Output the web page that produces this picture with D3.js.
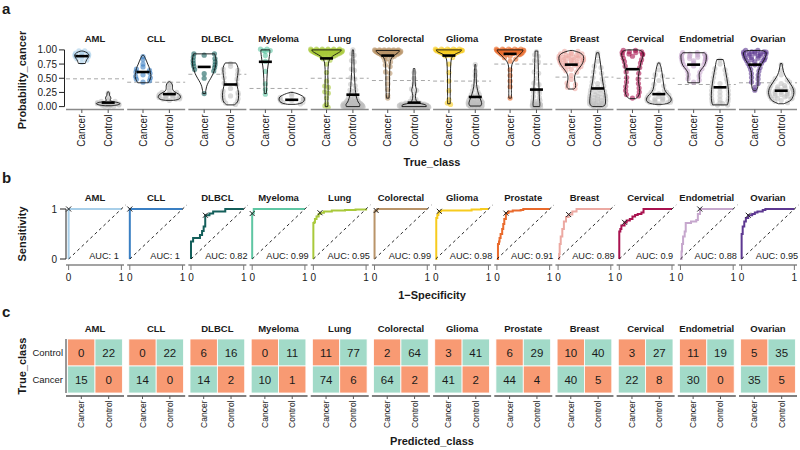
<!DOCTYPE html>
<html lang="en">
<head>
<meta charset="UTF-8">
<title>Cancer classifier panels</title>
<script src="https://cdn.jsdelivr.net/npm/d3@7"></script>
<style>
  body { margin: 0; background: #fff; }
  text { font-family: "Liberation Sans", Arial, Helvetica, sans-serif; fill: #1a1a1a; }
</style>
</head>
<body>
<svg id="fig" width="800" height="450"></svg>
<script>
const types = ['AML', 'CLL', 'DLBCL', 'Myeloma', 'Lung', 'Colorectal', 'Glioma', 'Prostate', 'Breast', 'Cervical', 'Endometrial', 'Ovarian'];
const typeColors = ['#a8cfe9', '#3a7fc3', '#145f5b', '#5fc6a3', '#a9c93b', '#b99469', '#f7cb1e', '#e96a2c', '#eca9a2', '#a9124f', '#c6a7cd', '#5d3891'];
const classes = ['Cancer', 'Control'];

// panel a: decision thresholds and medians of Probability_cancer
const probTicks = [0, 0.25, 0.5, 0.75, 1];
const thresholds = [0.49, 0.43, 0.57, 0.32, 0.5, 0.46, 0.45, 0.75, 0.52, 0.5, 0.39, 0.42];
const cancerMedian = [0.89, 0.61, 0.70, 0.79, 0.85, 0.90, 0.90, 0.93, 0.74, 0.66, 0.74, 0.74];
const controlMedian = [0.07, 0.22, 0.39, 0.12, 0.21, 0.07, 0.17, 0.30, 0.32, 0.22, 0.34, 0.28];

// violin outlines: [probability, density half-width]
const cancerViolin = [
  [[0.76,0.13],[0.79,0.15],[0.83,0.19],[0.87,0.25],[0.91,0.27],[0.95,0.2],[0.975,0.07],[0.98,0]],
  [[0.42,0.2],[0.47,0.26],[0.53,0.3],[0.6,0.28],[0.67,0.25],[0.75,0.18],[0.82,0.12],[0.87,0.07],[0.9,0.03],[0.91,0]],
  [[0.23,0.05],[0.28,0.06],[0.35,0.09],[0.42,0.15],[0.5,0.25],[0.58,0.34],[0.66,0.4],[0.74,0.44],[0.82,0.45],[0.88,0.43],[0.93,0.4]],
  [[0.23,0.04],[0.35,0.05],[0.5,0.06],[0.65,0.08],[0.78,0.12],[0.88,0.15],[0.96,0.17],[1.0,0.17]],
  [[0,0.05],[0.1,0.05],[0.3,0.06],[0.5,0.05],[0.7,0.06],[0.8,0.09],[0.86,0.16],[0.91,0.3],[0.95,0.45],[0.98,0.54],[1.0,0.56]],
  [[0.15,0.05],[0.25,0.06],[0.4,0.07],[0.55,0.07],[0.7,0.08],[0.8,0.1],[0.86,0.15],[0.9,0.24],[0.94,0.36],[0.97,0.43],[0.99,0.44]],
  [[0.05,0.05],[0.2,0.05],[0.4,0.05],[0.6,0.06],[0.75,0.07],[0.85,0.1],[0.9,0.16],[0.94,0.3],[0.97,0.44],[1.0,0.48]],
  [[0.15,0.05],[0.3,0.05],[0.5,0.05],[0.65,0.05],[0.74,0.07],[0.8,0.13],[0.86,0.24],[0.91,0.35],[0.95,0.43],[0.98,0.48],[1.0,0.49]],
  [[0.31,0.1],[0.34,0.16],[0.4,0.16],[0.47,0.13],[0.54,0.13],[0.6,0.18],[0.66,0.27],[0.72,0.37],[0.78,0.44],[0.85,0.47],[0.9,0.45],[0.94,0.36],[0.97,0.2],[0.99,0.05]],
  [[0.14,0.12],[0.18,0.22],[0.25,0.27],[0.32,0.27],[0.4,0.24],[0.48,0.22],[0.58,0.24],[0.68,0.28],[0.78,0.32],[0.86,0.38],[0.93,0.41],[0.98,0.35],[1.0,0.2]],
  [[0.42,0.22],[0.48,0.22],[0.54,0.21],[0.6,0.22],[0.66,0.3],[0.72,0.4],[0.79,0.46],[0.86,0.48],[0.92,0.47],[0.95,0.4]],
  [[0.28,0.04],[0.32,0.1],[0.4,0.12],[0.5,0.12],[0.6,0.13],[0.68,0.18],[0.76,0.27],[0.83,0.36],[0.9,0.42],[0.95,0.43],[0.98,0.35],[0.99,0.2]]
];
const controlViolin = [
  [[0.015,0.1],[0.03,0.35],[0.05,0.45],[0.07,0.38],[0.09,0.15],[0.11,0.07],[0.14,0.1],[0.17,0.09],[0.2,0.05],[0.24,0.04],[0.26,0.02]],
  [[0.11,0.15],[0.13,0.35],[0.16,0.42],[0.2,0.4],[0.24,0.28],[0.28,0.15],[0.32,0.12],[0.36,0.12],[0.4,0.1],[0.43,0.05],[0.44,0]],
  [[0.03,0.14],[0.08,0.26],[0.15,0.3],[0.25,0.3],[0.35,0.26],[0.45,0.24],[0.55,0.27],[0.65,0.29],[0.72,0.26],[0.77,0.2]],
  [[0.04,0.15],[0.06,0.35],[0.09,0.45],[0.13,0.48],[0.17,0.45],[0.2,0.35],[0.23,0.2],[0.25,0.05]],
  [[0,0.25],[0.04,0.26],[0.08,0.2],[0.14,0.15],[0.2,0.12],[0.3,0.09],[0.45,0.07],[0.6,0.05],[0.8,0.04],[0.95,0.03],[1.0,0.02]],
  [[0,0.46],[0.02,0.46],[0.04,0.38],[0.06,0.2],[0.09,0.1],[0.14,0.06],[0.2,0.05],[0.26,0.08],[0.3,0.09],[0.35,0.06],[0.45,0.04],[0.55,0.04],[0.67,0.03]],
  [[0.01,0.2],[0.05,0.24],[0.1,0.22],[0.15,0.18],[0.2,0.14],[0.28,0.09],[0.35,0.06],[0.45,0.04],[0.6,0.03],[0.74,0.02]],
  [[0,0.12],[0.05,0.13],[0.15,0.11],[0.3,0.1],[0.5,0.08],[0.7,0.07],[0.85,0.06],[0.98,0.05]],
  [[0,0.18],[0.03,0.28],[0.1,0.3],[0.2,0.28],[0.3,0.25],[0.45,0.19],[0.6,0.15],[0.75,0.11],[0.88,0.07],[0.95,0.04]],
  [[0.04,0.15],[0.06,0.35],[0.09,0.45],[0.13,0.47],[0.18,0.42],[0.24,0.3],[0.3,0.22],[0.4,0.18],[0.5,0.15],[0.6,0.12],[0.7,0.08],[0.77,0.03]],
  [[0.03,0.28],[0.1,0.32],[0.2,0.33],[0.3,0.32],[0.4,0.29],[0.5,0.26],[0.6,0.22],[0.7,0.18],[0.78,0.15],[0.83,0.12]],
  [[0.05,0.1],[0.08,0.25],[0.12,0.38],[0.18,0.45],[0.25,0.48],[0.32,0.45],[0.38,0.38],[0.45,0.28],[0.52,0.18],[0.6,0.1],[0.68,0.06],[0.76,0.03]]
];

// samples: [probability, number of samples]
const cancerSamples = [
  [[0.97,3],[0.93,3],[0.9,3],[0.87,3],[0.83,2],[0.78,1]],
  [[0.88,1],[0.83,1],[0.75,1],[0.7,1],[0.65,2],[0.6,2],[0.56,1],[0.52,2],[0.47,2],[0.43,1]],
  [[0.92,3],[0.86,2],[0.8,2],[0.75,2],[0.7,2],[0.64,2],[0.58,1],[0.5,1],[0.23,1]],
  [[1.0,4],[0.97,1],[0.9,1],[0.8,1],[0.62,1],[0.4,1],[0.3,1],[0.22,1]],
  [[1.0,12],[0.985,12],[0.97,12],[0.955,10],[0.94,8],[0.92,6],[0.9,4],[0.87,3],[0.83,2],[0.75,1],[0.6,1],[0.45,1],[0.35,2],[0.25,2],[0.15,1],[0.05,1],[0.0,2]],
  [[0.99,12],[0.975,12],[0.96,10],[0.945,8],[0.93,6],[0.9,4],[0.86,3],[0.8,2],[0.72,2],[0.6,2],[0.5,1],[0.4,1],[0.3,1],[0.2,1],[0.15,1]],
  [[1.0,10],[0.985,9],[0.97,7],[0.95,5],[0.92,3],[0.88,2],[0.75,1],[0.6,1],[0.45,1],[0.28,1],[0.12,1],[0.05,2]],
  [[1.0,10],[0.985,9],[0.97,8],[0.95,6],[0.93,4],[0.9,3],[0.85,2],[0.8,1],[0.65,1],[0.55,1],[0.45,1],[0.35,1],[0.15,1]],
  [[0.96,3],[0.92,5],[0.88,6],[0.84,6],[0.8,5],[0.76,5],[0.72,4],[0.67,3],[0.62,2],[0.55,1],[0.48,1],[0.4,2],[0.33,2]],
  [[0.98,4],[0.94,4],[0.9,3],[0.84,2],[0.78,2],[0.7,2],[0.6,2],[0.5,2],[0.42,2],[0.34,2],[0.27,2],[0.2,2],[0.15,1]],
  [[0.94,4],[0.9,4],[0.86,4],[0.82,3],[0.78,3],[0.73,3],[0.68,2],[0.62,2],[0.55,2],[0.48,2],[0.43,1]],
  [[0.98,4],[0.95,5],[0.92,5],[0.88,4],[0.84,4],[0.8,3],[0.75,3],[0.7,2],[0.64,2],[0.57,2],[0.5,2],[0.42,2],[0.34,1],[0.29,1]]
];
const controlSamples = [
  [[0.02,6],[0.04,6],[0.06,4],[0.08,3],[0.12,1],[0.16,1],[0.24,1]],
  [[0.12,3],[0.15,4],[0.18,4],[0.21,4],[0.24,3],[0.28,1],[0.33,1],[0.38,1],[0.42,1]],
  [[0.05,2],[0.1,2],[0.15,2],[0.2,3],[0.26,2],[0.32,1],[0.4,2],[0.5,2],[0.58,2],[0.65,2],[0.71,1],[0.76,1]],
  [[0.06,2],[0.09,2],[0.12,3],[0.15,2],[0.19,1],[0.23,1]],
  [[0.0,20],[0.02,18],[0.04,14],[0.07,8],[0.1,6],[0.14,4],[0.2,4],[0.28,3],[0.38,2],[0.5,2],[0.65,2],[0.8,2],[0.92,2],[1.0,1]],
  [[0.0,18],[0.015,16],[0.03,12],[0.05,8],[0.08,4],[0.14,2],[0.22,1],[0.3,2],[0.4,1],[0.5,1],[0.6,1]],
  [[0.01,8],[0.03,8],[0.06,7],[0.1,6],[0.14,4],[0.2,3],[0.27,2],[0.35,2],[0.45,1],[0.55,1],[0.62,1],[0.74,1]],
  [[0.0,6],[0.02,5],[0.05,4],[0.1,3],[0.17,2],[0.25,2],[0.3,2],[0.4,2],[0.5,1],[0.6,2],[0.7,1],[0.8,2],[0.9,2],[0.97,1]],
  [[0.01,6],[0.04,6],[0.08,5],[0.12,5],[0.17,5],[0.22,4],[0.28,4],[0.35,3],[0.42,3],[0.5,2],[0.6,2],[0.7,2],[0.8,1],[0.9,1],[0.95,1]],
  [[0.06,3],[0.09,4],[0.12,4],[0.15,4],[0.19,3],[0.24,3],[0.3,2],[0.38,2],[0.46,1],[0.55,2],[0.65,1],[0.75,1]],
  [[0.04,4],[0.08,3],[0.13,3],[0.2,3],[0.27,3],[0.34,3],[0.42,3],[0.5,2],[0.58,2],[0.66,2],[0.75,1],[0.82,1]],
  [[0.08,2],[0.12,3],[0.16,4],[0.2,5],[0.24,5],[0.28,5],[0.32,4],[0.36,4],[0.42,3],[0.48,2],[0.56,1],[0.64,1],[0.74,1]]
];

// panel b: ROC curves [1-specificity, sensitivity]
const rocCurves = [
  [[0,0],[0,1],[1,1]],
  [[0,0],[0,1],[1,1]],
  [[0,0],[0,0.35],[0.04,0.42],[0.17,0.48],[0.21,0.56],[0.24,0.65],[0.27,0.875],[0.35,0.91],[0.42,0.95],[0.65,1],[1,1]],
  [[0,0],[0,0.91],[0.03,1],[1,1]],
  [[0,0],[0,0.72],[0.02,0.74],[0.03,0.8],[0.06,0.85],[0.1,0.9],[0.125,0.925],[0.2,0.95],[0.35,0.97],[0.6,0.98],[0.8,0.99],[1,1]],
  [[0,0],[0,0.95],[0.015,0.97],[0.05,1],[1,1]],
  [[0,0],[0.01,0.82],[0.03,0.88],[0.05,0.93],[0.07,0.95],[0.1,0.97],[0.68,0.99],[0.86,1],[1,1]],
  [[0,0],[0.02,0.3],[0.04,0.35],[0.05,0.42],[0.07,0.5],[0.1,0.6],[0.12,0.7],[0.14,0.8],[0.17,0.92],[0.22,0.95],[0.3,0.97],[0.45,0.98],[0.5,1],[1,1]],
  [[0,0],[0.02,0.1],[0.03,0.3],[0.05,0.45],[0.08,0.6],[0.11,0.75],[0.15,0.84],[0.2,0.89],[0.27,0.95],[0.35,1],[1,1]],
  [[0,0],[0,0.55],[0.02,0.6],[0.04,0.67],[0.1,0.73],[0.14,0.77],[0.2,0.8],[0.25,0.85],[0.3,0.88],[0.35,0.9],[0.42,0.93],[0.46,1],[1,1]],
  [[0,0],[0.02,0.15],[0.03,0.3],[0.05,0.45],[0.08,0.55],[0.1,0.72],[0.2,0.75],[0.3,0.78],[0.33,0.9],[0.37,1],[1,1]],
  [[0,0],[0,0.5],[0.02,0.65],[0.05,0.75],[0.08,0.82],[0.125,0.875],[0.2,0.9],[0.25,0.93],[0.3,0.95],[0.4,0.98],[0.45,1],[1,1]]
];
const aucValues = [1, 1, 0.82, 0.99, 0.95, 0.99, 0.98, 0.91, 0.89, 0.9, 0.88, 0.95];

// panel c: confusion matrices (true class x predicted class)
const ctrlPredCancer = [0, 0, 6, 0, 11, 2, 3, 6, 10, 3, 11, 5];
const ctrlPredControl = [22, 22, 16, 11, 77, 64, 41, 29, 40, 27, 19, 35];
const cancerPredCancer = [15, 14, 14, 10, 74, 64, 41, 44, 40, 22, 30, 35];
const cancerPredControl = [0, 0, 2, 1, 6, 2, 2, 4, 5, 8, 0, 5];
const rightColor = '#a2dac8';
const wrongColor = '#f89a73';

const svg = d3.select('#fig');

const facet = d3.scaleBand().domain(types).range([66, 797]).paddingInner(0.052);
const bw = facet.bandwidth();
const xCat = d3.scalePoint().domain(classes).range([0, bw]).padding(0.6);
const step = xCat.step();

// shared labels
function label(x, y, txt, opts = {}) {
  const t = svg.append('text').attr('x', x).attr('y', y).text(txt)
    .attr('font-size', opts.size || 10)
    .attr('font-weight', opts.bold ? 'bold' : null)
    .attr('text-anchor', opts.anchor || 'middle');
  if (opts.rotate) t.attr('transform', `rotate(-90,${x},${y})`);
  return t;
}
function rotTick(x, y, txt, size) {
  svg.append('text').attr('transform', `translate(${x},${y}) rotate(-90)`)
    .attr('text-anchor', 'end').attr('dominant-baseline', 'central')
    .attr('font-size', size).text(txt);
}

label(2, 14, 'a', { size: 15, bold: true, anchor: 'start' });
label(2, 183, 'b', { size: 15, bold: true, anchor: 'start' });
label(2, 317, 'c', { size: 15, bold: true, anchor: 'start' });

// ---------------- panel a ----------------
const yA = d3.scaleLinear().domain([0, 1]).range([106.6, 49.9]);
const gA = svg.append('g');

gA.append('line').attr('x1', 64.5).attr('x2', 64.5).attr('y1', yA(0)).attr('y2', yA(1))
  .attr('stroke', '#222').attr('stroke-width', 1);
probTicks.forEach(t => {
  gA.append('line').attr('x1', 59).attr('x2', 64.5).attr('y1', yA(t)).attr('y2', yA(t)).attr('stroke', '#222');
  gA.append('text').attr('x', 57).attr('y', yA(t) + 3.5).attr('text-anchor', 'end')
    .attr('font-size', 10).text(d3.format('.2f')(t));
});
label(26, 80, 'Probability_cancer', { size: 11, bold: true, rotate: true });
label(432, 166, 'True_class', { size: 11, bold: true });

function hwScale(profile) {
  return d3.scaleLinear().domain(profile.map(d => d[0])).range(profile.map(d => d[1])).clamp(true);
}

function drawViolin(g, cx, profile, samples, median, color, ptOpacity) {
  const area = d3.area().curve(d3.curveCatmullRom.alpha(0.5))
    .y(d => yA(d[0]))
    .x0(d => cx - d[1] * step)
    .x1(d => cx + d[1] * step);
  g.append('path').attr('d', area(profile)).attr('fill', '#fff');
  const hw = hwScale(profile);
  const pts = [];
  samples.forEach(([v, n]) => {
    const spread = hw(v) * 0.9 + 0.008 * n;
    for (let k = 0; k < n; k++) {
      const u = n === 1 ? 0 : -1 + 2 * k / (n - 1);
      pts.push({ v: v, x: cx + u * spread * step, dy: n > 1 ? (k % 2 ? 0.7 : -0.7) : 0 });
    }
  });
  g.append('g').selectAll('circle').data(pts).join('circle')
    .attr('cx', d => d.x).attr('cy', d => yA(d.v) + d.dy).attr('r', 2.6)
    .attr('fill', color).attr('fill-opacity', ptOpacity);
  g.append('path').attr('d', area(profile)).attr('fill', 'none')
    .attr('stroke', '#111').attr('stroke-width', 0.9);
  g.append('line').attr('x1', cx - 6.5).attr('x2', cx + 6.5)
    .attr('y1', yA(median)).attr('y2', yA(median))
    .attr('stroke', '#000').attr('stroke-width', 2.6);
}

types.forEach((t, i) => {
  const x0 = facet(t);
  const g = gA.append('g');
  label(x0 + bw / 2, 41.5, t, { size: 9.5, bold: true });
  g.append('line').attr('x1', x0).attr('x2', x0 + bw)
    .attr('y1', yA(thresholds[i])).attr('y2', yA(thresholds[i]))
    .attr('stroke', '#a8a8a8').attr('stroke-dasharray', '4,3');
  drawViolin(g, x0 + xCat('Cancer'), cancerViolin[i], cancerSamples[i], cancerMedian[i], typeColors[i], 0.6);
  drawViolin(g, x0 + xCat('Control'), controlViolin[i], controlSamples[i], controlMedian[i], '#bdbdbd', 0.55);
  g.append('line').attr('x1', x0).attr('x2', x0 + bw).attr('y1', 109.5).attr('y2', 109.5)
    .attr('stroke', '#8a8a8a').attr('stroke-width', 1.6);
  classes.forEach(c => {
    g.append('line').attr('x1', x0 + xCat(c)).attr('x2', x0 + xCat(c)).attr('y1', 109.5).attr('y2', 113)
      .attr('stroke', '#555');
    rotTick(x0 + xCat(c), 114.5, c, 10);
  });
});

// ---------------- panel b ----------------
const yB = d3.scaleLinear().domain([0, 1]).range([259, 209]);
const xB = d3.scaleLinear().domain([-0.05, 1.05]).range([0, bw]);
const gB = svg.append('g');

gB.append('line').attr('x1', 66).attr('x2', 66).attr('y1', yB(0)).attr('y2', yB(1))
  .attr('stroke', '#222');
[0, 1].forEach(t => {
  gB.append('line').attr('x1', 60).attr('x2', 66).attr('y1', yB(t)).attr('y2', yB(t)).attr('stroke', '#222');
  gB.append('text').attr('x', 57).attr('y', yB(t) + 3.5).attr('text-anchor', 'end')
    .attr('font-size', 10).text(t);
});
label(26, 234, 'Sensitivity', { size: 11, bold: true, rotate: true });
label(432, 299, '1\u2212Specificity', { size: 11, bold: true });

types.forEach((t, i) => {
  const x0 = facet(t);
  const g = gB.append('g').attr('transform', `translate(${x0},0)`);
  label(x0 + bw / 2, 200.5, t, { size: 9.5, bold: true });
  const roc = d3.line().curve(d3.curveStepAfter).x(d => xB(d[0])).y(d => yB(d[1]));
  g.append('path').attr('d', roc(rocCurves[i])).attr('fill', 'none')
    .attr('stroke', typeColors[i]).attr('stroke-width', 2);
  g.append('line').attr('x1', xB(0)).attr('y1', yB(0)).attr('x2', xB(1.08)).attr('y2', yB(1.08))
    .attr('stroke', '#111').attr('stroke-width', 0.9).attr('stroke-dasharray', '3,3');
  const fpr = ctrlPredCancer[i] / (ctrlPredCancer[i] + ctrlPredControl[i]);
  const tpr = cancerPredCancer[i] / (cancerPredCancer[i] + cancerPredControl[i]);
  const mx = xB(fpr), my = yB(tpr);
  g.append('path').attr('d', `M${mx - 2.5},${my - 2.5}L${mx + 2.5},${my + 2.5}M${mx - 2.5},${my + 2.5}L${mx + 2.5},${my - 2.5}`)
    .attr('stroke', '#222').attr('stroke-width', 1);
  g.append('text').attr('x', xB(0.67)).attr('y', yB(0.08) + 3.5).attr('text-anchor', 'middle')
    .attr('font-size', 9.2).text('AUC: ' + aucValues[i]);
  g.append('line').attr('x1', 0).attr('x2', bw).attr('y1', 265).attr('y2', 265)
    .attr('stroke', '#a3a3a3').attr('stroke-width', 1.8);
  [0, 1].forEach(v => {
    g.append('line').attr('x1', xB(v)).attr('x2', xB(v)).attr('y1', 265).attr('y2', 270).attr('stroke', '#777');
    g.append('text').attr('x', xB(v)).attr('y', 281).attr('text-anchor', 'middle').attr('font-size', 10).text(v);
  });
});

// ---------------- panel c ----------------
const rows = ['Control', 'Cancer'];
const yC = d3.scaleBand().domain(rows).range([339, 393]);
const xC = d3.scaleBand().domain(classes).range([0, bw]).paddingOuter(0.06);
const gC = svg.append('g');

gC.append('line').attr('x1', 66).attr('x2', 66).attr('y1', 339).attr('y2', 393).attr('stroke', '#333');
rows.forEach(r => {
  gC.append('text').attr('x', 63).attr('y', yC(r) + yC.bandwidth() / 2 + 3.5)
    .attr('text-anchor', 'end').attr('font-size', 9.5).text(r);
});
label(26, 366, 'True_class', { size: 11, bold: true, rotate: true });
label(432, 445, 'Predicted_class', { size: 11, bold: true });

types.forEach((t, i) => {
  const x0 = facet(t);
  const g = gC.append('g').attr('transform', `translate(${x0},0)`);
  label(x0 + bw / 2, 331.5, t, { size: 9.5, bold: true });
  const cells = [
    { row: 'Control', col: 'Cancer', n: ctrlPredCancer[i], ok: false },
    { row: 'Control', col: 'Control', n: ctrlPredControl[i], ok: true },
    { row: 'Cancer', col: 'Cancer', n: cancerPredCancer[i], ok: true },
    { row: 'Cancer', col: 'Control', n: cancerPredControl[i], ok: false }
  ];
  g.selectAll('rect').data(cells).join('rect')
    .attr('x', d => xC(d.col)).attr('y', d => yC(d.row))
    .attr('width', xC.bandwidth()).attr('height', yC.bandwidth())
    .attr('fill', d => d.ok ? rightColor : wrongColor)
    .attr('stroke', '#fff').attr('stroke-width', 0.8);
  g.selectAll('text.n').data(cells).join('text').attr('class', 'n')
    .attr('x', d => xC(d.col) + xC.bandwidth() / 2)
    .attr('y', d => yC(d.row) + yC.bandwidth() / 2 + 4)
    .attr('text-anchor', 'middle').attr('font-size', 11.5).text(d => d.n);
  g.append('line').attr('x1', 0).attr('x2', bw).attr('y1', 396).attr('y2', 396)
    .attr('stroke', '#555').attr('stroke-width', 1.4);
  classes.forEach(c => {
    const cx = x0 + xC(c) + xC.bandwidth() / 2;
    g.append('line').attr('x1', xC(c) + xC.bandwidth() / 2).attr('x2', xC(c) + xC.bandwidth() / 2)
      .attr('y1', 396).attr('y2', 399).attr('stroke', '#555');
    rotTick(cx, 400.5, c, 8.5);
  });
});
</script>
</body>
</html>
